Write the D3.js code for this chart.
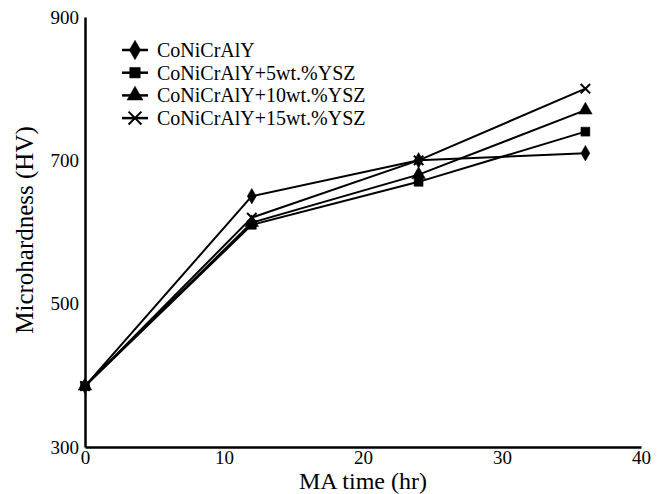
<!DOCTYPE html>
<html><head><meta charset="utf-8">
<script src="https://cdn.jsdelivr.net/npm/d3@7"></script>
<style>html,body{margin:0;padding:0;background:#fff}</style>
</head><body>
<svg id="c" width="666" height="494"></svg>
<script>
const times = [0, 12, 24, 36];
const seriesNames = ["CoNiCrAlY", "CoNiCrAlY+5wt.%YSZ", "CoNiCrAlY+10wt.%YSZ", "CoNiCrAlY+15wt.%YSZ"];
const s0 = [385, 650, 700, 710];
const s5 = [385, 610, 670, 740];
const s10 = [385, 613, 680, 770];
const s15 = [385, 620, 700, 800];
const xTicks = [0, 10, 20, 30, 40];
const yTicks = [300, 500, 700, 900];

const seriesVals = [s0, s5, s10, s15];
const symbols = [d3.symbolDiamond, d3.symbolSquare, d3.symbolTriangle, d3.symbolTimes];
const symSizes = [70, 80, 80, 60];

const svg = d3.select("#c");
const font = "'Liberation Serif','Times New Roman',serif";
const x = d3.scaleLinear().domain([0, 40]).range([85, 641]);
const y = d3.scaleLinear().domain([300, 900]).range([447, 17]);

// axes
const xa = svg.append("g").attr("transform", "translate(0,447)")
  .call(d3.axisBottom(x).tickValues(xTicks).tickSize(0).tickPadding(4));
const ya = svg.append("g").attr("transform", "translate(85,0)")
  .call(d3.axisLeft(y).tickValues(yTicks).tickSize(0).tickPadding(6));
[xa, ya].forEach(a => {
  a.select(".domain").attr("stroke", "#000").attr("stroke-width", 2.5);
  a.selectAll("text").attr("font-family", font).attr("font-size", 19).attr("fill", "#000");
});

// lines
const line = d3.line().x((d, i) => x(times[i])).y(d => y(d));
seriesVals.forEach((vals, k) => {
  svg.append("path").datum(vals).attr("d", line)
    .attr("fill", "none").attr("stroke", "#000").attr("stroke-width", 2);
});
seriesVals.forEach((vals, k) => {
  svg.selectAll(null).data(vals).enter().append("path")
    .attr("transform", (d, i) => `translate(${x(times[i])},${y(d)})`)
    .attr("d", d3.symbol(symbols[k], symSizes[k]))
    .attr("fill", k === 3 ? "none" : "#000")
    .attr("stroke", "#000").attr("stroke-width", k === 3 ? 2 : 0.5);
});

// legend
const leg = svg.append("g");
seriesNames.forEach((name, k) => {
  const cy = 50 + k * 22.7;
  leg.append("line").attr("x1", 122).attr("x2", 148).attr("y1", cy).attr("y2", cy)
    .attr("stroke", "#000").attr("stroke-width", 2.5);
  leg.append("path").attr("transform", `translate(135,${cy})`)
    .attr("d", d3.symbol(symbols[k], 110))
    .attr("fill", k === 3 ? "none" : "#000").attr("stroke", "#000")
    .attr("stroke-width", k === 3 ? 2 : 0.5);
  leg.append("text").attr("x", 157).attr("y", cy + 7)
    .attr("font-family", font).attr("font-size", 20).text(name);
});

// axis titles
svg.append("text").attr("x", 363).attr("y", 489).attr("text-anchor", "middle")
  .attr("font-family", font).attr("font-size", 24).text("MA time (hr)");
svg.append("text").attr("transform", "translate(33,230) rotate(-90)").attr("text-anchor", "middle")
  .attr("font-family", font).attr("font-size", 25).text("Microhardness (HV)");
</script>
</body></html>
